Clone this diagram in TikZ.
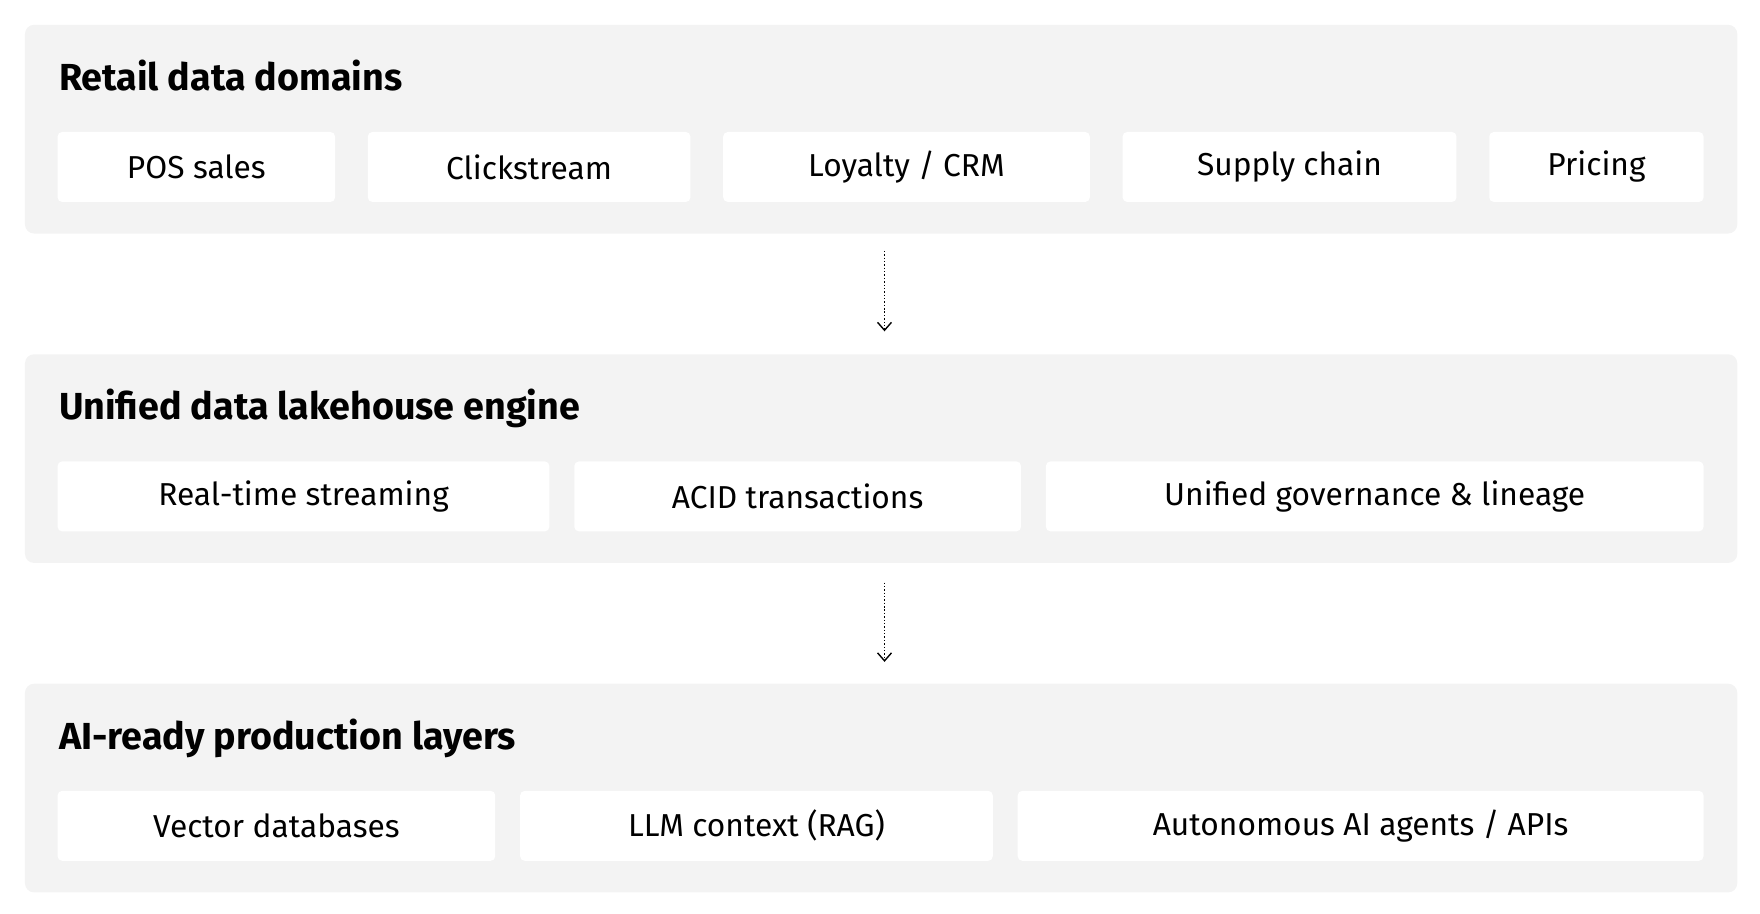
\documentclass[tikz,border=0pt]{standalone}
\usepackage{fontspec}
\setmainfont{Fira Sans}
\usetikzlibrary{calc,arrows.meta}
\definecolor{panelgray}{HTML}{F3F3F3}
\begin{document}
\begin{tikzpicture}[x={(0.02cm,0)},y={(0,-0.02cm)},
  panel/.style={fill=panelgray,draw=none,rounded corners=0.16cm,minimum width=30.36cm,minimum height=3.7cm,inner sep=0},
  box/.style={fill=white,draw=none,rounded corners=0.08cm,minimum height=1.24cm,inner sep=0,font=\fontsize{16}{18}\selectfont},
  ttl/.style={anchor=base west,inner sep=0,font=\fontsize{19}{22}\selectfont\bfseries},
  flow/.style={densely dotted,line width=0.7pt,-{Straight Barb[length=4pt,width=7pt]}}]
\useasboundingbox (0,0) rectangle (1560,810);
\node[panel] (p1) at (781,114.5) {};
\node[panel] (p2) at (781,406.5) {};
\node[panel] (p3) at (781,698.5) {};
\node[ttl] (t1) at (52,80) {Retail data domains};
\node[ttl] (t2) at (52,372) {Unified data lakehouse engine};
\node[ttl] (t3) at (52,664) {AI-ready production layers};
\node[box,minimum width=4.92cm] (b11) at (174,148) {POS sales};
\node[box,minimum width=5.72cm] (b12) at (469,148) {Clickstream};
\node[box,minimum width=6.5cm] (b13) at (803.5,148) {Loyalty / CRM};
\node[box,minimum width=5.92cm] (b14) at (1143,148) {Supply chain};
\node[box,minimum width=3.8cm] (b15) at (1415,148) {Pricing};
\node[box,minimum width=8.72cm] (b21) at (269,440) {Real-time streaming};
\node[box,minimum width=7.92cm] (b22) at (707,440) {ACID transactions};
\node[box,minimum width=11.66cm] (b23) at (1218.5,440) {Unified governance \& lineage};
\node[box,minimum width=7.76cm] (b31) at (245,732) {Vector databases};
\node[box,minimum width=8.38cm] (b32) at (670.5,732) {LLM context (RAG)};
\node[box,minimum width=12.16cm] (b33) at (1206,732) {Autonomous AI agents / APIs};
\draw[flow] ($(p1.south)+(3,15)$) -- ($(p2.north)+(3,-20)$);
\draw[flow] ($(p2.south)+(3,17)$) -- ($(p3.north)+(3,-19)$);
\end{tikzpicture}
\end{document}
